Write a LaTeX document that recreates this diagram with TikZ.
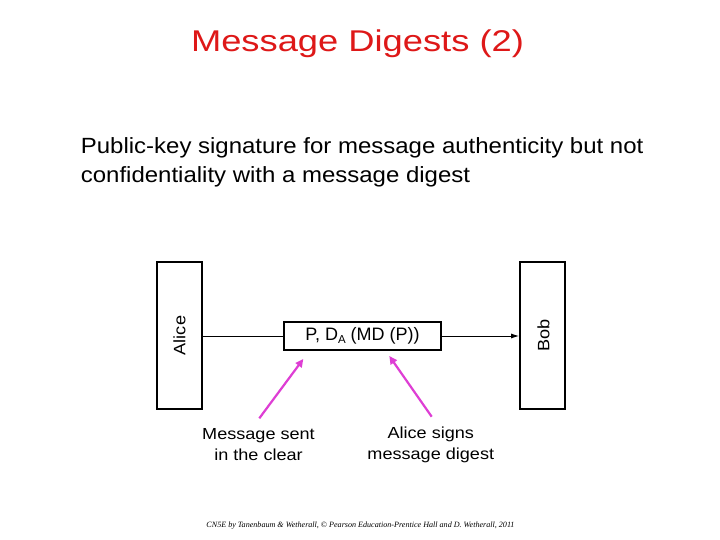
\documentclass[tikz,border=0pt]{standalone}
\usepackage{fontspec}
\setmainfont{Liberation Sans}
\newfontfamily\footfont{Liberation Serif}
\usetikzlibrary{arrows.meta}
\definecolor{titlered}{RGB}{222,24,24}
\definecolor{magentaarrow}{RGB}{222,62,212}
\begin{document}
\begin{tikzpicture}[x=1pt,y=-1pt,
  party/.style={draw,line width=1.7pt,minimum width=45pt,minimum height=147pt,inner sep=0pt},
  msgbox/.style={draw,line width=1.7pt,minimum width=157pt,minimum height=28pt,inner sep=0pt},
  flow/.style={line width=1pt},
  pointer/.style={draw=magentaarrow,line width=2.2pt,-{Triangle[length=8pt,width=7.5pt]}},
  lbl/.style={inner sep=0pt,anchor=base},
]
\useasboundingbox (0,0) rectangle (720,540);
\fill[white] (0,0) rectangle (720,540);

% title
\node[lbl,text=titlered] (title) at (357.5,51.7)
  {\fontsize{30}{30}\selectfont\scalebox{1.21}[1]{Message Digests (2)}};

% body
\node[lbl,anchor=base west] (body) at (80.7,154)
  {\fontsize{22}{28.7}\selectfont\scalebox{1.09}[1]{\begin{tabular}[t]{@{}l@{}}Public-key signature for message authenticity but not\\confidentiality with a message digest\end{tabular}}};

% parties
\node[party] (alice) at (179.5,335.5) {};
\node[rotate=90,inner sep=0pt] (alicetext) at (alice.center)
  {\fontsize{16.5}{16.5}\selectfont\scalebox{1.1}[1]{Alice}};
\node[party] (bob) at (542.5,335.5) {};
\node[rotate=90,inner sep=0pt] (bobtext) at (543.5,335.5)
  {\fontsize{16.5}{16.5}\selectfont\scalebox{1.1}[1]{Bob}};

% message
\node[msgbox] (msg) at (362.5,336)
  {\fontsize{18}{18}\selectfont P, D\raisebox{-3pt}{\fontsize{11.5}{11.5}\selectfont A} (MD (P))};

\draw[flow] (alice.east |- msg.west) -- (msg.west);
\draw[flow,-{Latex[length=8pt,width=5pt]}] (msg.east) -- (bob.west |- msg.east);

% labels
\node[lbl] (sent) at (258.5,439)
  {\fontsize{16}{21}\selectfont\scalebox{1.13}[1]{\begin{tabular}[t]{@{}c@{}}Message sent\\in the clear\end{tabular}}};
\node[lbl] (signs) at (430.8,438.3)
  {\fontsize{16}{21}\selectfont\scalebox{1.13}[1]{\begin{tabular}[t]{@{}c@{}}Alice signs\\message digest\end{tabular}}};

\coordinate (sentfrom) at (259.3,418.3);
\coordinate (sentto) at (303.3,359);
\coordinate (signsfrom) at (431.7,416.7);
\coordinate (signsto) at (389.3,356);
\draw[pointer] (sentfrom) -- (sentto);
\draw[pointer] (signsfrom) -- (signsto);

% footer
\node[lbl] (footer) at (360.5,527)
  {\resizebox{308pt}{!}{\footfont\itshape CN5E by Tanenbaum \& Wetherall, \textcopyright\ Pearson Education-Prentice Hall and D.~Wetherall, 2011}};
\end{tikzpicture}
\end{document}
